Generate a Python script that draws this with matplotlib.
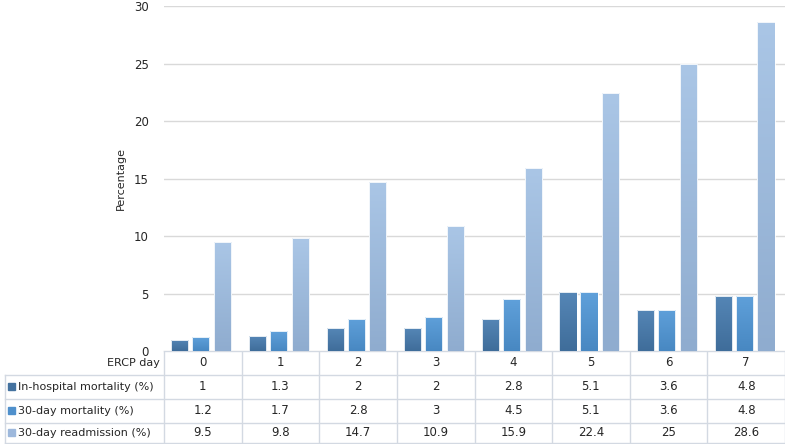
import numpy as np
import matplotlib
matplotlib.use('Agg')
import matplotlib.pyplot as plt
import matplotlib.transforms as mtrans
from matplotlib.colors import LinearSegmentedColormap

# data
days = ['0', '1', '2', '3', '4', '5', '6', '7']
series_names = ['In-hospital mortality (%)', '30-day mortality (%)', '30-day readmission (%)']
in_hospital = [1, 1.3, 2, 2, 2.8, 5.1, 3.6, 4.8]
mortality_30 = [1.2, 1.7, 2.8, 3, 4.5, 5.1, 3.6, 4.8]
readmission_30 = [9.5, 9.8, 14.7, 10.9, 15.9, 22.4, 25, 28.6]
series = [in_hospital, mortality_30, readmission_30]

# gradient top / bottom colours for each series
grads = [('#5586b6', '#3f6d9a'), ('#5fa0da', '#4888c2'), ('#aac6e6', '#8faccf')]
legend_cols = ['#44729f', '#4f90cc', '#9db8dc']
grid_col = '#d9d9d9'
line_col = '#d3d9e2'
txt_col = '#262626'

W, H = 785, 444
fig = plt.figure(figsize=(W / 100, H / 100), dpi=100)
left, right, y0, ytop = 164, 785, 351, 6
ax = fig.add_axes([left / W, 1 - y0 / H, (right - left) / W, (y0 - ytop) / H])

x = np.arange(len(days))
offsets = [-0.295, -0.025, 0.255]
width = 0.22
for vals, off, (ctop, cbot) in zip(series, offsets, grads):
    bars = ax.bar(x + off, vals, width=width, color='none', edgecolor='white',
                  linewidth=0.6, zorder=3)
    cmap = LinearSegmentedColormap.from_list('g', [cbot, ctop])
    grad = np.linspace(0, 1, 100).reshape(-1, 1)
    for b in bars:
        bx, bw, bh = b.get_x(), b.get_width(), b.get_height()
        im = ax.imshow(grad, cmap=cmap, aspect='auto', origin='lower',
                       extent=[bx, bx + bw, 0, bh], zorder=2)
        im.set_clip_path(b)

ax.set_xlim(-0.5, len(days) - 0.5)
ax.set_ylim(0, 30)
ax.set_yticks(range(0, 31, 5))
ax.set_xticks([])
ax.grid(axis='y', color=grid_col, linewidth=1, zorder=0)
for s in ax.spines.values():
    s.set_visible(False)
ax.tick_params(axis='y', length=0, labelsize=8.5, labelcolor=txt_col, pad=11)
ax.set_ylabel('Percentage', fontsize=8, color=txt_col, labelpad=6)

# data table underneath
tab = fig.add_axes([0, 0, 1, 1], zorder=-1)
tab.set_xlim(0, W)
tab.set_ylim(H, 0)
tab.axis('off')
tr = mtrans.blended_transform_factory(ax.transData, tab.transData)

rows_y = [351, 374.5, 398.5, 422.5, 443]
edges = np.arange(len(days) + 1) - 0.5
for yy in rows_y[:1]:
    tab.plot([left, right], [yy, yy], color=line_col, lw=1)
for yy in rows_y[1:]:
    tab.plot([5, right], [yy, yy], color=line_col, lw=1)
for e in edges:
    tab.plot([e, e], [rows_y[0], rows_y[-1]], color=line_col, lw=1, transform=tr)
tab.plot([5, 5], [rows_y[1], rows_y[-1]], color=line_col, lw=1)

tab.text(160, (rows_y[0] + rows_y[1]) / 2, 'ERCP day', ha='right', va='center',
         fontsize=8, color=txt_col)
for i, d in enumerate(days):
    tab.text(i, (rows_y[0] + rows_y[1]) / 2, d, ha='center', va='center',
             fontsize=8.5, color=txt_col, transform=tr)

for r, (name, vals, lc) in enumerate(zip(series_names, series, legend_cols)):
    cy = (rows_y[r + 1] + rows_y[r + 2]) / 2
    tab.add_patch(plt.Rectangle((8, cy - 3.5), 7, 7, color=lc))
    tab.text(18, cy, name, ha='left', va='center', fontsize=8, color=txt_col)
    for i, v in enumerate(vals):
        tab.text(i, cy, f'{v:g}', ha='center', va='center', fontsize=8.5,
                 color=txt_col, transform=tr)

fig.savefig('out.png', dpi=100)
